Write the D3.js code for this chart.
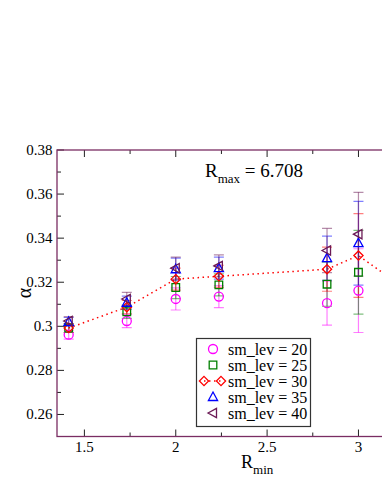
<!DOCTYPE html>
<html>
<head>
<meta charset="utf-8">
<script src="https://cdn.jsdelivr.net/npm/d3@7/dist/d3.min.js"></script>
<style>
  svg text { font-family: "Liberation Serif" !important; }
</style>
</head>
<body style="margin:0; background:#fff">
<svg id="chart" width="382" height="494"></svg>
<script>
// R_min values (sqrt of squared distances)
const rmin = [1.414, 1.732, 2.0, 2.236, 2.828, 3.0]
const rminRed = [1.414, 1.732, 2.0, 2.236, 2.828, 3.0, 3.162]

const sm20 = [0.2962, 0.3024, 0.3124, 0.3135, 0.3105, 0.3162]
const sm25 = [0.2992, 0.3066, 0.3176, 0.3188, 0.3191, 0.3245]
const sm30 = [0.2992, 0.3087, 0.3214, 0.3227, 0.3259, 0.3321, 0.3226]
const sm35 = [0.3020, 0.3107, 0.3259, 0.3264, 0.3309, 0.3377]
const sm40 = [0.3024, 0.3124, 0.3264, 0.3274, 0.3344, 0.3418]
const errs = [0.002, 0.003, 0.005, 0.005, 0.010, 0.019, 0.019]

const legendLabels = ["sm_lev = 20", "sm_lev = 25", "sm_lev = 30", "sm_lev = 35", "sm_lev = 40"]
const xTicks = [1.5, 2, 2.5, 3]
const yTicks = [0.26, 0.28, 0.3, 0.32, 0.34, 0.36, 0.38]

const padL = 57, padT = 150, padB = 436.5
const fam = '"Liberation Serif"'

const svg = d3.select("#chart").style("display", "block")

const x = d3.scaleLinear().domain([1.35, 3.6]).range([padL, padL + 2.25 * 182.7])
const y = d3.scaleLinear().domain([0.25, 0.38]).range([padB, padT])
const padR = x(3.6)

const series = [
  {vals: sm20, xs: rmin, color: "#ff00ff", sym: "circle"},
  {vals: sm25, xs: rmin, color: "#007f00", sym: "square"},
  {vals: sm30, xs: rminRed, color: "#ff0000", sym: "diamond"},
  {vals: sm35, xs: rmin, color: "#0000ff", sym: "up"},
  {vals: sm40, xs: rmin, color: "#6b1a55", sym: "left"}
]

function symPath(sym) {
  if (sym == "circle") return "M4.5,0A4.5,4.5 0 1,1 -4.5,0A4.5,4.5 0 1,1 4.5,0Z"
  if (sym == "square") return "M-3.8,-3.8H3.8V3.8H-3.8Z"
  if (sym == "diamond") return "M0,-4.6L4.6,0L0,4.6L-4.6,0Z"
  if (sym == "up") return "M0,-5L4.6,3.5H-4.6Z"
  return "M-5,0L3.5,-4.6V4.6Z"
}

svg.append("defs").append("clipPath").attr("id", "clip")
  .append("rect").attr("x", padL).attr("y", padT).attr("width", padR - padL).attr("height", padB - padT)

// frame ticks
const tickG = svg.append("g").attr("stroke", "#222").attr("stroke-width", 1)
const xMinor = [1.75, 2.25, 2.75, 3.25]
xTicks.concat([3.5]).forEach(function(t) {
  tickG.append("line").attr("x1", x(t)).attr("x2", x(t)).attr("y1", padB).attr("y2", padB - 7)
  tickG.append("line").attr("x1", x(t)).attr("x2", x(t)).attr("y1", padT).attr("y2", padT + 7)
})
xMinor.forEach(function(t) {
  tickG.append("line").attr("x1", x(t)).attr("x2", x(t)).attr("y1", padB).attr("y2", padB - 4)
  tickG.append("line").attr("x1", x(t)).attr("x2", x(t)).attr("y1", padT).attr("y2", padT + 4)
})
yTicks.forEach(function(t) {
  tickG.append("line").attr("x1", padL).attr("x2", padL + 7).attr("y1", y(t)).attr("y2", y(t))
})
d3.range(0.27, 0.38, 0.02).forEach(function(t) {
  tickG.append("line").attr("x1", padL).attr("x2", padL + 4).attr("y1", y(t)).attr("y2", y(t))
})

// frame
svg.append("rect").attr("x", padL).attr("y", padT).attr("width", padR - padL).attr("height", padB - padT)
  .attr("fill", "none").attr("stroke", "#7a2d63").attr("stroke-width", 1.3)

// tick labels
svg.selectAll(".xl").data(xTicks).enter().append("text")
  .style("font-family", fam)
  .attr("x", d => x(d)).attr("y", 452).attr("text-anchor", "middle")
  .style("font-size", "15px").text(d => d)
svg.selectAll(".yl").data(yTicks).enter().append("text")
  .style("font-family", fam)
  .attr("x", 52.5).attr("y", d => y(d) + 5).attr("text-anchor", "end")
  .style("font-size", "15px").text(d => d)

const plot = svg.append("g").attr("clip-path", "url(#clip)")

// red dotted line
plot.append("path")
  .datum(sm30.map((v, i) => [rminRed[i], v]))
  .attr("d", d3.line().x(d => x(d[0])).y(d => y(d[1])))
  .attr("fill", "none").attr("stroke", "#ff0000").attr("stroke-width", 1.5)
  .attr("stroke-dasharray", "1.5,3.5")

// error bars
series.forEach(function(s) {
  const g = plot.append("g").attr("stroke", s.color).attr("stroke-opacity", 0.5).attr("stroke-width", 1.2)
  s.vals.forEach(function(v, i) {
    const cx = x(s.xs[i]), e = errs[i]
    g.append("line").attr("x1", cx).attr("x2", cx).attr("y1", y(v - e)).attr("y2", y(v + e))
    ;[v - e, v + e].forEach(function(c) {
      g.append("line").attr("x1", cx - 5).attr("x2", cx + 5).attr("y1", y(c)).attr("y2", y(c))
    })
  })
})

// symbols
series.forEach(function(s) {
  plot.selectAll(null).data(s.vals).enter().append("path")
    .attr("d", symPath(s.sym))
    .attr("transform", (d, i) => `translate(${x(s.xs[i])},${y(d)})`)
    .attr("fill", "none").attr("stroke", s.color).attr("stroke-width", 1.3)
})

// annotation
const ann = svg.append("text").style("font-family", fam).attr("x", 205).attr("y", 177).style("font-size", "19px")
ann.append("tspan").text("R")
ann.append("tspan").style("font-size", "13px").attr("dy", 6).text("max")
ann.append("tspan").attr("dy", -6).text(" = 6.708")

// axis labels
const xl = svg.append("text").style("font-family", fam).attr("x", 241).attr("y", 468).style("font-size", "18px")
xl.append("tspan").text("R")
xl.append("tspan").style("font-size", "13px").attr("dy", 6).text("min")

svg.append("text").style("font-family", fam).attr("transform", "translate(31,293) rotate(-90)")
  .attr("text-anchor", "middle").style("font-size", "20px").text("α")

// legend
const lg = svg.append("g")
lg.append("rect").attr("x", 196.5).attr("y", 338.5).attr("width", 114).attr("height", 88)
  .attr("fill", "#fff").attr("stroke", "#333").attr("stroke-width", 1.2)
series.forEach(function(s, i) {
  const ly = 349 + i * 16
  if (s.sym == "diamond") {
    lg.append("line").attr("x1", 204).attr("x2", 221).attr("y1", ly).attr("y2", ly)
      .attr("stroke", s.color).attr("stroke-width", 1.5).attr("stroke-dasharray", "1.5,3.5")
    ;[204, 221].forEach(function(px) {
      lg.append("path").attr("d", symPath(s.sym)).attr("transform", `translate(${px},${ly})`)
        .attr("fill", "none").attr("stroke", s.color).attr("stroke-width", 1.3)
    })
  } else {
    lg.append("path").attr("d", symPath(s.sym)).attr("transform", `translate(213,${ly})`)
      .attr("fill", "none").attr("stroke", s.color).attr("stroke-width", 1.3)
  }
  lg.append("text").style("font-family", fam).attr("x", 228).attr("y", ly + 5.5)
    .style("font-size", "16px").text(legendLabels[i])
})
</script>
</body>
</html>
